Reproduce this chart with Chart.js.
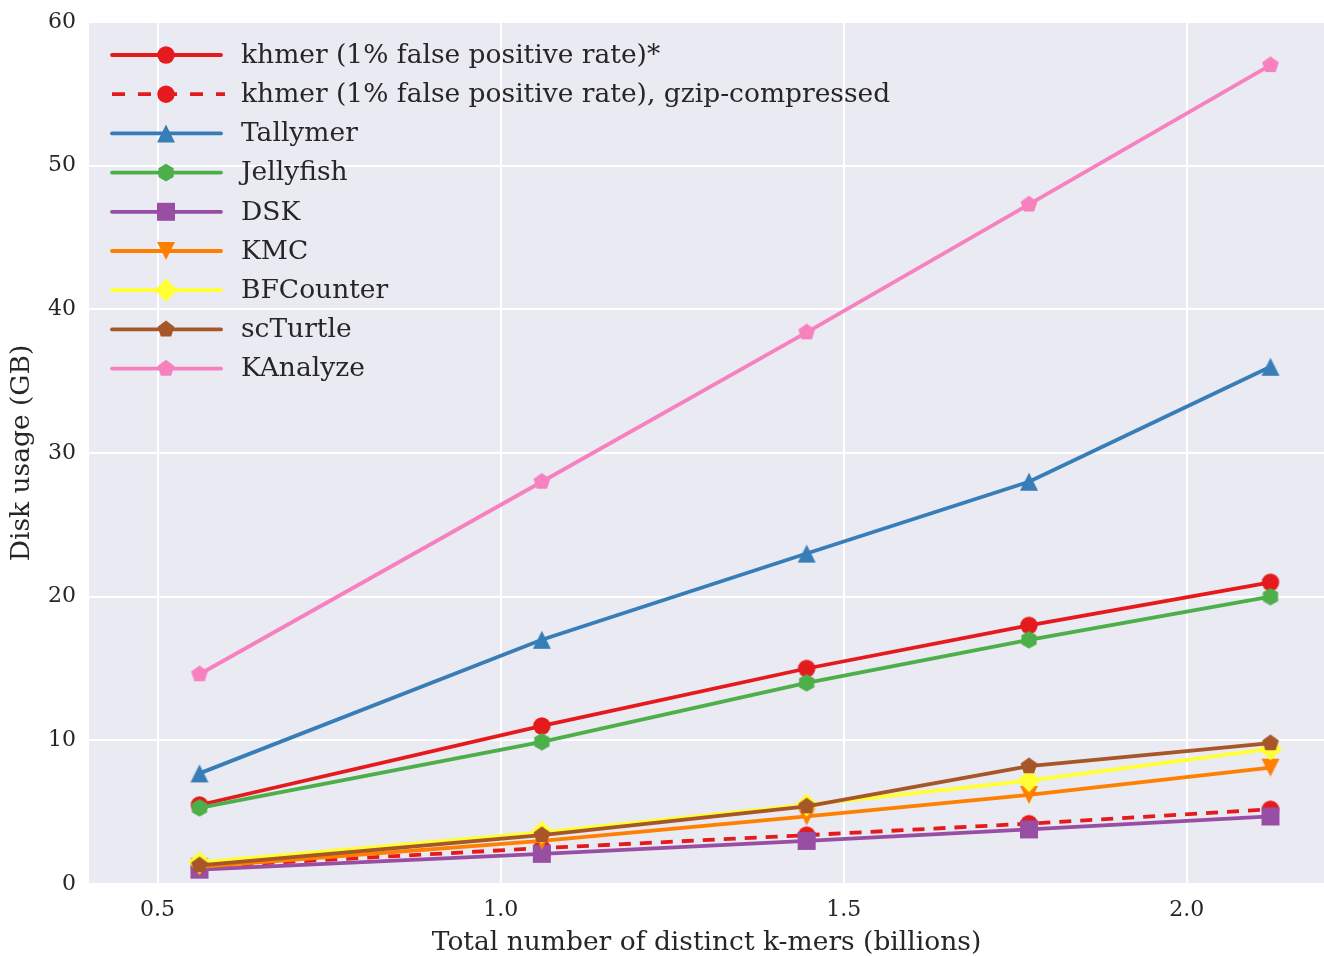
<!DOCTYPE html>
<html>
<head>
<meta charset="utf-8">
<script src="https://cdn.jsdelivr.net/npm/chart.js@4/dist/chart.umd.min.js"></script>
<style>
  html, body { margin: 0; padding: 0; background: #ffffff; }
  #wrap { width: 1324px; height: 956px; }
</style>
</head>
<body>
<div id="wrap"><canvas id="c" width="1324" height="956"></canvas></div>
<script>
// ---- data ----
const xValues = [0.561, 1.06, 1.446, 1.77, 2.122];
const seriesNames = [
  "khmer (1% false positive rate)*",
  "khmer (1% false positive rate), gzip-compressed",
  "Tallymer",
  "Jellyfish",
  "DSK",
  "KMC",
  "BFCounter",
  "scTurtle",
  "KAnalyze"
];
const khmer      = [5.5, 11.0, 15.0, 18.0, 21.0];
const khmerGzip  = [1.2, 2.5, 3.4, 4.2, 5.2];
const tallymer   = [7.7, 17.0, 23.0, 28.0, 36.0];
const jellyfish  = [5.3, 9.9, 14.0, 17.0, 20.0];
const dsk        = [1.0, 2.1, 3.0, 3.8, 4.7];
const kmc        = [1.2, 3.0, 4.7, 6.2, 8.1];
const bfcounter  = [1.5, 3.6, 5.5, 7.2, 9.4];
const scturtle   = [1.3, 3.4, 5.4, 8.2, 9.8];
const kanalyze   = [14.6, 28.0, 38.4, 47.3, 57.0];
const xTickValues = [0.5, 1.0, 1.5, 2.0];
const xTickLabels = ["0.5", "1.0", "1.5", "2.0"];
const yTickValues = [0, 10, 20, 30, 40, 50, 60];
const yTickLabels = ["0", "10", "20", "30", "40", "50", "60"];

// ---- styles ----
const FONT = "'DejaVu Serif', serif";
const TEXT = "#262626";
const styles = [
  { color: "#e41a1c", shape: "circle",   dash: [] },
  { color: "#e41a1c", shape: "circle",   dash: [12, 9] },
  { color: "#377eb8", shape: "triangle", dash: [] },
  { color: "#4daf4a", shape: "hexagon",  dash: [] },
  { color: "#984ea3", shape: "square",   dash: [] },
  { color: "#ff7f00", shape: "tridown",  dash: [] },
  { color: "#ffff33", shape: "diamond",  dash: [] },
  { color: "#a65628", shape: "pentagon", dash: [] },
  { color: "#f781bf", shape: "pentagon", dash: [] }
];
const seriesData = [khmer, khmerGzip, tallymer, jellyfish, dsk, kmc, bfcounter, scturtle, kanalyze];

function shapePath(ctx, shape, cx, cy) {
  ctx.beginPath();
  if (shape === "circle") {
    ctx.arc(cx, cy, 8.7, 0, Math.PI * 2);
  } else if (shape === "triangle") {
    const h = 9;
    ctx.moveTo(cx, cy - h); ctx.lineTo(cx + h, cy + h); ctx.lineTo(cx - h, cy + h);
  } else if (shape === "tridown") {
    const h = 9;
    ctx.moveTo(cx, cy + h); ctx.lineTo(cx + h, cy - h); ctx.lineTo(cx - h, cy - h);
  } else if (shape === "square") {
    const h = 9;
    ctx.rect(cx - h, cy - h, 2 * h, 2 * h);
  } else if (shape === "diamond") {
    const h = 11.5;
    ctx.moveTo(cx, cy - h); ctx.lineTo(cx + h, cy); ctx.lineTo(cx, cy + h); ctx.lineTo(cx - h, cy);
  } else if (shape === "hexagon") {
    const r = 8.8;
    for (let i = 0; i < 6; i++) {
      const a = -Math.PI / 2 + i * Math.PI / 3;
      const px = cx + r * Math.cos(a), py = cy + r * Math.sin(a);
      i ? ctx.lineTo(px, py) : ctx.moveTo(px, py);
    }
  } else if (shape === "pentagon") {
    const r = 8.8;
    for (let i = 0; i < 5; i++) {
      const a = -Math.PI / 2 + i * 2 * Math.PI / 5;
      const px = cx + r * Math.cos(a), py = cy + r * Math.sin(a);
      i ? ctx.lineTo(px, py) : ctx.moveTo(px, py);
    }
  }
  ctx.closePath();
}
function makeMarker(shape, color) {
  const cv = document.createElement("canvas");
  cv.width = 28; cv.height = 28;
  const ctx = cv.getContext("2d");
  shapePath(ctx, shape, 14, 14);
  ctx.fillStyle = color;
  ctx.fill();
  return cv;
}

const N = seriesNames.length;
const datasets = seriesNames.map((name, i) => {
  const st = styles[i];
  const marker = makeMarker(st.shape, st.color);
  return {
    label: name,
    data: seriesData[i].map((v, j) => ({ x: xValues[j], y: v })),
    borderColor: st.color,
    backgroundColor: st.color,
    borderWidth: 3.8,
    borderDash: st.dash,
    pointStyle: marker,
    pointRadius: 9,
    pointHoverRadius: 9,
    tension: 0,
    fill: false,
    clip: false,
    order: N - i,
    _shape: st.shape
  };
});

const bgPlugin = {
  id: "bg",
  beforeDraw(chart) {
    const { ctx, chartArea: a } = chart;
    ctx.save();
    ctx.fillStyle = "#EAEAF2";
    ctx.fillRect(a.left, a.top, a.right - a.left, a.bottom - a.top);
    ctx.restore();
  }
};

const legendPlugin = {
  id: "inLegend",
  afterDatasetsDraw(chart) {
    const { ctx, chartArea: a } = chart;
    ctx.save();
    const x0 = a.left + 23, x1 = a.left + 132, xm = a.left + 77, xt = a.left + 152;
    const y0 = a.top + 33, dy = 39.2;
    chart.data.datasets.forEach((ds, i) => {
      const y = y0 + i * dy;
      ctx.strokeStyle = ds.borderColor;
      ctx.lineWidth = ds.borderWidth;
      const dashed = ds.borderDash && ds.borderDash.length;
      ctx.setLineDash(dashed ? [13, 13] : []);
      ctx.lineCap = dashed ? "butt" : "round";
      ctx.beginPath();
      ctx.moveTo(x0, y); ctx.lineTo(x1 + (dashed ? 4 : 0), y);
      ctx.stroke();
      ctx.setLineDash([]);
      shapePath(ctx, ds._shape, xm, y);
      ctx.fillStyle = ds.backgroundColor;
      ctx.fill();
      ctx.fillStyle = TEXT;
      ctx.font = "26.5px " + FONT;
      ctx.textBaseline = "middle";
      ctx.textAlign = "left";
      ctx.fillText(ds.label, xt, y + 1);
    });
    ctx.restore();
  }
};

new Chart(document.getElementById("c"), {
  type: "line",
  data: { datasets },
  plugins: [bgPlugin, legendPlugin],
  options: {
    responsive: false,
    devicePixelRatio: 1,
    animation: false,
    layout: { autoPadding: false, padding: { top: 22, right: 0, left: 0, bottom: 0 } },
    plugins: { legend: { display: false }, tooltip: { enabled: false } },
    scales: {
      x: {
        type: "linear",
        min: 0.4, max: 2.2,
        afterBuildTicks(scale) { scale.ticks = xTickValues.map(v => ({ value: v })); },
        afterFit(scale) { scale.height = 72; scale.paddingLeft = 0; scale.paddingRight = 0; },
        ticks: {
          callback(v) { const k = xTickValues.indexOf(v); return k >= 0 ? xTickLabels[k] : ""; },
          font: { family: FONT, size: 22 }, color: TEXT, padding: 13, maxRotation: 0
        },
        grid: { color: "#ffffff", lineWidth: 2, drawTicks: false },
        border: { display: false },
        title: { display: true, text: "Total number of distinct k-mers (billions)",
                 font: { family: FONT, size: 26.5, lineHeight: 1.0 }, color: TEXT, padding: { top: 4, bottom: 0 } }
      },
      y: {
        type: "linear",
        min: 0, max: 60,
        afterBuildTicks(scale) { scale.ticks = yTickValues.map(v => ({ value: v })); },
        afterFit(scale) { scale.width = 89; scale.paddingTop = 0; scale.paddingBottom = 0; },
        ticks: {
          callback(v) { const k = yTickValues.indexOf(v); return k >= 0 ? yTickLabels[k] : ""; },
          font: { family: FONT, size: 22 }, color: TEXT, padding: 13
        },
        grid: { color: "#ffffff", lineWidth: 2, drawTicks: false },
        border: { display: false },
        title: { display: true, text: "Disk usage (GB)",
                 font: { family: FONT, size: 26.5, lineHeight: 1.0 }, color: TEXT, padding: { top: 9, bottom: 4 } }
      }
    }
  }
});
</script>
</body>
</html>
